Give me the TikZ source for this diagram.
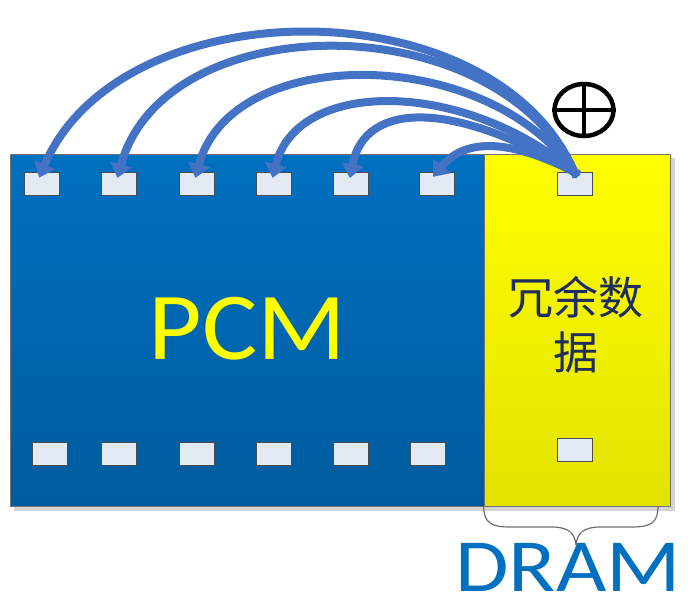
\documentclass[tikz,border=0pt]{standalone}
\usepackage{fontspec}
\usetikzlibrary{arrows.meta,shapes.geometric}
\newfontfamily\calib{Carlito}
\newfontfamily\cjk{Noto Sans CJK SC}
\definecolor{pcmtop}{HTML}{0070C0}
\definecolor{pcmbot}{HTML}{005C9E}
\definecolor{ytop}{HTML}{FFFF00}
\definecolor{ybot}{HTML}{E2E200}
\definecolor{sqfill}{HTML}{E4EAF4}
\definecolor{arrowblue}{HTML}{4472C4}
\definecolor{navy}{HTML}{1F2D5C}
\definecolor{dramblue}{HTML}{0070C0}
\definecolor{bracegray}{HTML}{6E6E6E}
\definecolor{shadowgray}{HTML}{D4D4D4}
\tikzset{
  sq/.style={draw=black!70, fill=sqfill, line width=0.8pt, minimum width=35pt, minimum height=23pt, inner sep=0pt},
  arr/.style={draw=arrowblue, line width=8pt, -{Triangle[width=22pt,length=14pt]}, shorten >=-6pt, shorten <=-5pt},
  blockbox/.style={draw=black!55, line width=0.8pt, inner sep=0pt}
}
\begin{document}
\begin{tikzpicture}[x=1pt,y=-1pt]
\useasboundingbox (0,0) rectangle (691,598);
% shadow
\fill[shadowgray] (14,158) rectangle (675,511);
% blocks
\node[blockbox, minimum width=474pt, minimum height=352pt, top color=pcmtop, bottom color=pcmbot] (pcm) at (247,330) {};
\node[blockbox, minimum width=186pt, minimum height=352pt, top color=ytop, bottom color=ybot] (ram) at (577,330) {};
% top squares
\node[sq] (t1) at (41.5,184) {};
\node[sq] (t2) at (119,184) {};
\node[sq] (t3) at (197,184) {};
\node[sq] (t4) at (274,184) {};
\node[sq] (t5) at (351,184) {};
\node[sq] (t6) at (437,184) {};
\node[sq] (ys) at (574.5,184) {};
% bottom squares
\node[sq] (b1) at (50,453.5) {};
\node[sq] (b2) at (119,453.5) {};
\node[sq] (b3) at (197,453.5) {};
\node[sq] (b4) at (274,453.5) {};
\node[sq] (b5) at (351,453.5) {};
\node[sq] (b6) at (428,453.5) {};
\node[sq] (yb) at (574.5,450) {};
% texts
\node[text=ytop, font=\calib\fontsize{96}{110}\selectfont, inner sep=0pt] (pcmtxt) at (247.5,329) {\scalebox{1.08}[1]{PCM}};
\node[text=navy, font=\cjk\fontsize{45}{55}\selectfont, align=center, inner sep=0pt] (red) at (576,325) {冗余数\\据};
\node[text=dramblue, font=\calib\fontsize{75}{85}\selectfont, inner sep=0pt] (dram) at (568,567) {\scalebox{1.16}[1]{DRAM}};
% arrows
\draw[arr] (ys.north) .. controls (500,-15) and (121,-15) .. (t1.north);
\draw[arr] (ys.north) .. controls (500,4) and (165,4) .. (t2.north);
\draw[arr] (ys.north) .. controls (490,43) and (231,43) .. (t3.north);
\draw[arr] (ys.north) .. controls (465,78) and (297,78) .. (t4.north);
\draw[arr] (ys.north) .. controls (455,100) and (365,100) .. (t5.north);
\draw[arr] (ys.north) .. controls (510,138) and (465,138) .. (t6.north);
% xor symbol
\node[ellipse, draw=black, line width=4.5pt, minimum width=59pt, minimum height=52pt, inner sep=0pt] (xor) at (584,110) {};
\draw[line width=4.5pt] (xor.north) -- (xor.south);
\draw[line width=4.5pt] (xor.west) -- (xor.east);
% brace
\draw[bracegray, line width=1.2pt] (ram.south west) .. controls (484,522) and (490,527) .. (510,527) -- (552,527) .. controls (568,527) and (575,533) .. (576,545);
\draw[bracegray, line width=1.2pt] (658,506) .. controls (658,522) and (652,527) .. (632,527) -- (600,527) .. controls (584,527) and (577,533) .. (576,545);
\end{tikzpicture}
\end{document}
